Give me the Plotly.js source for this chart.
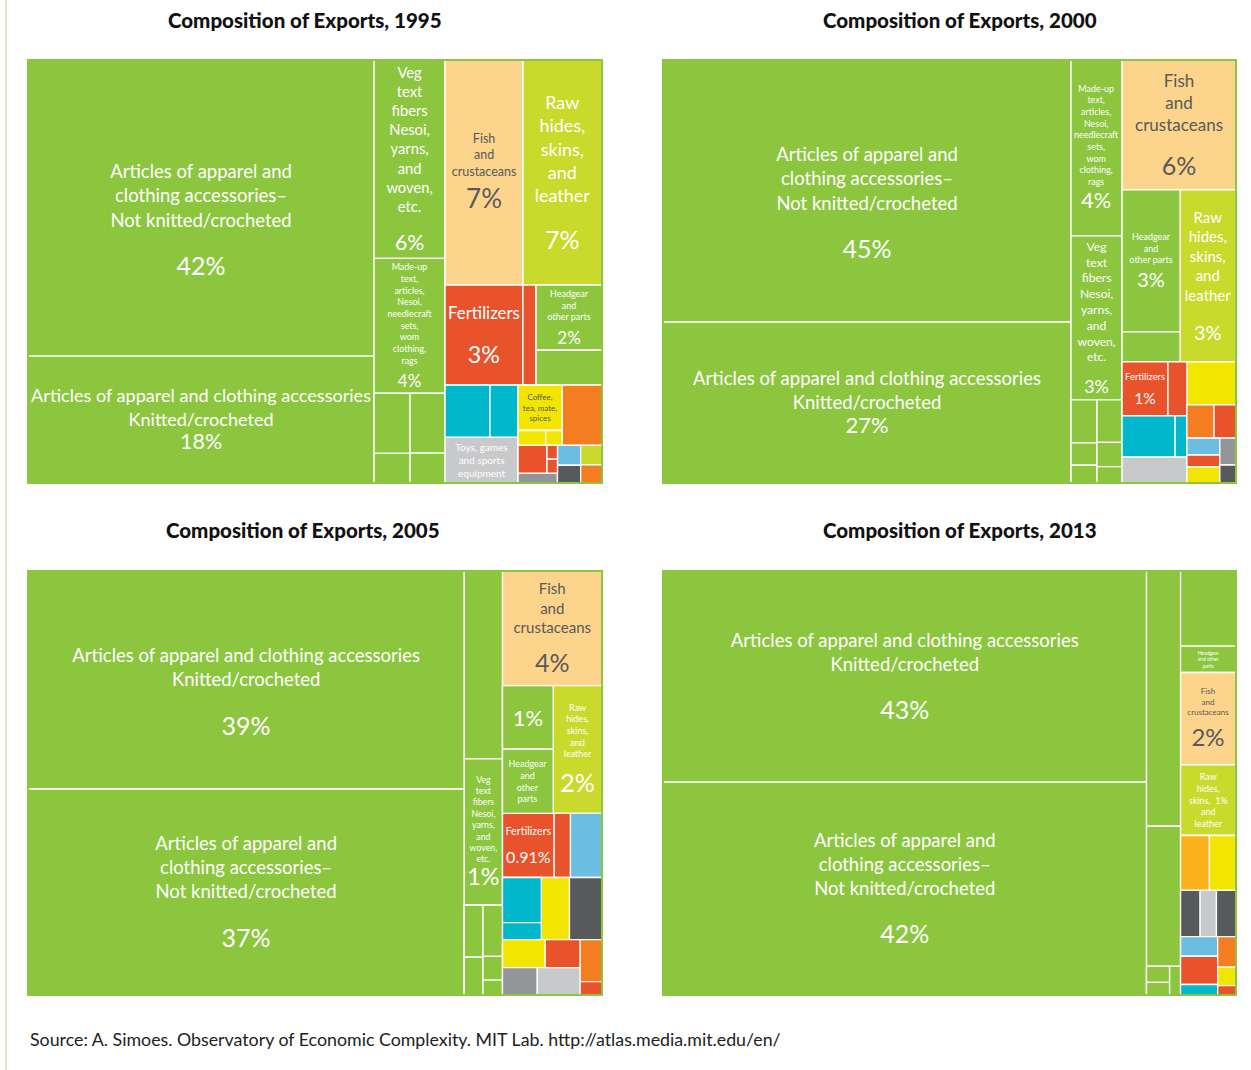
<!DOCTYPE html>
<html>
<head>
<meta charset="utf-8">
<script src="https://cdn.plot.ly/plotly-3.0.1.min.js"></script>
<style>html,body{margin:0;padding:0;background:#fff;}#chart{width:1251px;height:1070px;}</style>
</head>
<body>
<div id="chart"></div>
<script>
// ---------------- DATA ----------------
// 1995
const ids95 = ['r','A','notknit','knit','B','veg','madeup','Bx','b1','b11','b12','b2','b21','b22',
  'C','Ct','fish','raw','Cm','fert','fert2','hgc','head','head2',
  'Cb','cb1','cy','cy1','cy2','toys','cb2','cb2t','cof','coffee','ys','y1','y2','or1',
  'cb2b','rc','rg','r1','rs','r2','r3','gr1','bc','lb1','dg1','yc','yg1','or2'];
const parents95 = ['','r','A','A','r','B','B','B','Bx','b1','b1','Bx','b2','b2',
  'r','C','Ct','Ct','C','Cm','Cm','Cm','hgc','hgc',
  'C','Cb','cb1','cy','cy','cb1','Cb','cb2','cb2t','cof','cof','ys','ys','cb2t',
  'cb2','cb2b','rc','rg','rg','rs','rs','rc','cb2b','bc','bc','cb2b','yc','yc'];
const values95 = [0,0,42.2,18.1,0,5.8,3.95,0,0,0.89,0.44,0,0.86,0.43,
  0,0,7.23,7.32,0,3.21,0.54,0,1.77,0.95,
  0,0,0,0.96,0.6,1.38,0,0,0,0.82,0,0.17,0.1,0.99,
  0,0,0,0.33,0,0.06,0.06,0.16,0,0.19,0.17,0,0.17,0.16];
const named95 = ['notknit','knit','veg','madeup','fish','raw','fert','head','coffee','toys'];
const names95 = [
  'Articles of apparel and<br>clothing accessories–<br>Not knitted/crocheted',
  'Articles of apparel and clothing accessories<br>Knitted/crocheted',
  'Veg<br>text<br>fibers<br>Nesoi,<br>yarns,<br>and<br>woven,<br>etc.',
  'Made-up<br>text,<br>articles,<br>Nesoi,<br>needlecraft<br>sets,<br>wom<br>clothing,<br>rags',
  'Fish<br>and<br>crustaceans',
  'Raw<br>hides,<br>skins,<br>and<br>leather',
  'Fertilizers',
  'Headgear<br>and<br>other parts',
  'Coffee,<br>tea, mate,<br>spices',
  'Toys, games<br>and sports<br>equipment'];
const shares95 = ['42%','18%','6%','4%','7%','7%','3%','2%','',''];

// 2000
const ids00 = ['r','A','notknit','knit','B','madeup','veg','Bx','b1','b11','b12','b13','b2','b21','b22','b23',
  'C','fish','Cm','hgc','head','head2','raw',
  'Cb','cb1','fg','fert','fert2','cy','cy1','cy2','gr','cb2','ye','ro','or','rd','bb','bb1','lb','rd2','ye2','bb2','mg','dg'];
const parents00 = ['','r','A','A','r','B','B','B','Bx','b1','b1','b1','Bx','b2','b2','b2',
  'r','C','C','Cm','hgc','hgc','Cm',
  'C','Cb','cb1','fg','fg','cb1','cy','cy','cb1','Cb','cb2','cb2','ro','ro','cb2','bb','bb1','bb1','bb1','bb','bb2','bb2'];
const values00 = [0,0,44.1,27.1,0,3.7,3.45,0,0,0.46,0.24,0.19,0,0.44,0.25,0.17,
  0,6.1,0,0,3.4,0.72,3.97,
  0,0,0,1.02,0.42,0,0.9,0.2,0.7,0,0.87,0,0.37,0.3,0,0,0.23,0.16,0.22,0,0.18,0.12];
const named00 = ['notknit','knit','madeup','veg','fish','head','raw','fert'];
const names00 = [
  'Articles of apparel and<br>clothing accessories–<br>Not knitted/crocheted',
  'Articles of apparel and clothing accessories<br>Knitted/crocheted',
  'Made-up<br>text,<br>articles,<br>Nesoi,<br>needlecraft<br>sets,<br>wom<br>clothing,<br>rags',
  'Veg<br>text<br>fibers<br>Nesoi,<br>yarns,<br>and<br>woven,<br>etc.',
  'Fish<br>and<br>crustaceans',
  'Headgear<br>and<br>other parts',
  'Raw<br>hides,<br>skins,<br>and<br>leather',
  'Fertilizers'];
const shares00 = ['45%','27%','4%','3%','6%','3%','3%','1%'];

// 2005
const ids05 = ['r','A','knit','notknit','B','bt','veg','Bx','b1','b11','b12','b2','b21','b22','b23',
  'C','fish','Cm','c1','g1','head','raw',
  'row1','fert','fert2','lb','row2','cyc','cy','cy2','ye','dg',
  'row3','lg','lgt','ye2','rd','lgb','mg','lgr','rc','or','rd2'];
const parents05 = ['','r','A','A','r','B','B','B','Bx','b1','b1','Bx','b2','b2','b2',
  'r','C','C','Cm','c1','c1','Cm',
  'C','row1','row1','row1','C','row2','cyc','cyc','row2','row2',
  'C','row3','lg','lgt','lgt','lg','lgb','lgb','row3','rc','rc'];
const values05 = [0,0,39.05,36.9,0,2.95,2.3,0,0,0.4,0.29,0,0.41,0.19,0.12,
  0,4.68,0,0,1.32,1.34,2.56,
  0,1.36,0.43,0.83,0,0,0.72,0.27,0.72,0.83,
  0,0,0,0.49,0.4,0,0.39,0.48,0,0.38,0.12];
const named05 = ['knit','notknit','veg','fish','g1','head','raw','fert'];
const names05 = [
  'Articles of apparel and clothing accessories<br>Knitted/crocheted',
  'Articles of apparel and<br>clothing accessories–<br>Not knitted/crocheted',
  'Veg<br>text<br>fibers<br>Nesoi,<br>yarns,<br>and<br>woven,<br>etc.',
  'Fish<br>and<br>crustaceans',
  '',
  'Headgear<br>and<br>other<br>parts',
  'Raw<br>hides,<br>skins,<br>and<br>leather',
  'Fertilizers'];
const shares05 = ['39%','37%','1%','4%','1%','','2%','0.91%'];

// 2013
const ids13 = ['r','A','knit','notknit','B','bt','b2','Bx','bx1','bx11','bx12','bx2',
  'C','gt','head','fish','raw','r1','am','ye','r2','dg','lg','dg2','r3','c1','lb','rd','cy','c2','or','ye2','rd2'];
const parents13 = ['','r','A','A','r','B','B','B','Bx','bx1','bx1','Bx',
  'r','C','C','C','C','C','r1','r1','C','r2','r2','r2','C','r3','c1','c1','c1','r3','c2','c2','c2'];
const values13 = [0,0,41.9,42.3,0,3.57,1.96,0,0,0.15,0.12,0.13,
  0,1.71,0.6,2.1,1.61,0,0.65,0.6,0,0.37,0.31,0.37,0,0,0.3,0.43,0.16,0,0.23,0.14,0.07];
const named13 = ['knit','notknit','head','fish','raw'];
const names13 = [
  'Articles of apparel and clothing accessories<br>Knitted/crocheted',
  'Articles of apparel and<br>clothing accessories–<br>Not knitted/crocheted',
  'Headgear<br>and other<br>parts',
  'Fish<br>and<br>crustaceans',
  'Raw<br>hides,<br>skins,  1%<br>and<br>leather'];
const shares13 = ['43%','42%','','2%',''];

// ---------------- STYLE ----------------
const PAL = {G:'#8cc63f', YG:'#c9da2c', F:'#fdd48b', R:'#e9532b', C:'#00b7cb', Y:'#f2e600',
  O:'#f47d22', LB:'#6cbde2', LG:'#c8c9cb', DG:'#58595b', MG:'#939598', A:'#fbb21a'};
const col95 = {fish:'F', raw:'YG', fert:'R', fert2:'R', cy1:'C', cy2:'C', toys:'LG', coffee:'Y', y1:'Y', y2:'Y',
  or1:'O', r1:'R', r2:'R', r3:'R', gr1:'MG', lb1:'LB', dg1:'DG', yg1:'YG', or2:'O'};
const col00 = {fish:'F', raw:'YG', fert:'R', fert2:'R', cy1:'C', cy2:'C', gr:'LG', ye:'Y', or:'O', rd:'R',
  lb:'LB', rd2:'R', ye2:'Y', mg:'MG', dg:'DG'};
const col05 = {fish:'F', raw:'YG', fert:'R', fert2:'R', lb:'LB', cy:'C', cy2:'C', ye:'Y', dg:'DG',
  ye2:'Y', rd:'R', mg:'MG', lgr:'LG', or:'O', rd2:'R'};
const col13 = {fish:'F', raw:'YG', am:'A', ye:'Y', dg:'DG', lg:'LG', dg2:'DG', lb:'LB', rd:'R', cy:'C',
  or:'O', ye2:'Y', rd2:'R'};
// font size, percent size, blank lines before percent, leading blank lines
const fs95 = [18.5,18.5,18,10,12.5,18,18,10,8,10], ps95 = [25,22,26,19,26,25,25,19,0,0],
      gap95 = [1,0,1,1,1,1,1,1,0,0], lead95 = [1,0,0,0,0,0,0,0,0,0];
const fs00 = [18.5,18.5,9,15,17,9,15,12], ps00 = [25,22,22,22,25,20,20,20],
      gap00 = [1,0,1,1,1,1,1,1], lead00 = [1,0,0,0,0,0,0,0];
const fs05 = [18.5,18.5,9,15,10,9,9,12], ps05 = [25,25,24,25,22,0,25,18],
      gap05 = [1,1,1,1,0,0,2,1], lead05 = [1,0,0,0,0,0,0,0];
const fs13 = [18.5,18.5,5,8,9], ps13 = [25,25,0,24,0],
      gap13 = [1,1,0,2,0], lead13 = [0,0,0,0,0];
const darkText = ['fish','coffee'];
const FONT = 'Lato, "Open Sans", sans-serif';
const W = 1251, H = 1070;

function px(x){ return x / W; }
function py(y){ return 1 - y / H; }
function blank(n){ let s = ''; for(let i = 0; i < n; i++) s += '<br> '; return s; }

function makeTrace(ids, parents, values, named, names, shares, fs, ps, gap, lead, cmap, box){
  if(ids.length !== parents.length || ids.length !== values.length) throw new Error('length mismatch ' + ids[2]);
  const text = ids.map(() => '');
  const size = ids.map(() => 10);
  const tcol = ids.map(id => darkText.indexOf(id) >= 0 ? '#58595b' : '#ffffff');
  named.forEach((id, k) => {
    const i = ids.indexOf(id);
    let t = names[k];
    if(shares[k]){
      const sp = '<span style="font-size:' + ps[k] + 'px">' + shares[k] + '</span>';
      t = t ? t + blank(gap[k]) + '<br>' + sp : sp;
    }
    if(lead[k]) t = ' ' + blank(lead[k] - 1) + '<br>' + t;
    text[i] = t;
    size[i] = fs[k];
  });
  const colors = ids.map(id => PAL[cmap[id] || 'G']);
  return {
    type: 'treemap', ids: ids, labels: ids, parents: parents, values: values, text: text,
    textinfo: 'text', textposition: 'middle center', sort: false, branchvalues: 'remainder',
    tiling: {packing: 'slice-dice', pad: 0},
    marker: {colors: colors, pad: {t: 0, l: 0, r: 0, b: 0}, line: {color: '#ffffff', width: 1.3}},
    textfont: {family: FONT, size: size, color: tcol},
    pathbar: {visible: false}, hoverinfo: 'none',
    domain: {x: [px(box[0]), px(box[1])], y: [py(box[3]), py(box[2])]}
  };
}

const boxes = [[28,602,60,483],[663,1236,60,483],[28,602,571,995],[663,1236,571,995]];
const data = [
  makeTrace(ids95, parents95, values95, named95, names95, shares95, fs95, ps95, gap95, lead95, col95, boxes[0]),
  makeTrace(ids00, parents00, values00, named00, names00, shares00, fs00, ps00, gap00, lead00, col00, boxes[1]),
  makeTrace(ids05, parents05, values05, named05, names05, shares05, fs05, ps05, gap05, lead05, col05, boxes[2]),
  makeTrace(ids13, parents13, values13, named13, names13, shares13, fs13, ps13, gap13, lead13, col13, boxes[3])
];

const titles = ['Composition of Exports, 1995','Composition of Exports, 2000','Composition of Exports, 2005','Composition of Exports, 2013'];
const titlePos = [[305,20],[960,20],[303,530],[960,530]];
const annotations = titles.map((t, i) => ({
  text: t, x: px(titlePos[i][0]), y: py(titlePos[i][1]), xref: 'paper', yref: 'paper',
  xanchor: 'center', yanchor: 'middle', showarrow: false,
  font: {family: FONT, size: 20.5, weight: 900, color: '#111111'}
}));
annotations.push({
  text: 'Source: A. Simoes. Observatory of Economic Complexity. MIT Lab. http://atlas.media.mit.edu/en/',
  x: px(28), y: py(1039), xref: 'paper', yref: 'paper', xanchor: 'left', yanchor: 'middle', showarrow: false,
  font: {family: FONT, size: 17.8, color: '#222222'}
});
const shapes = boxes.map(b => ({type: 'rect', xref: 'paper', yref: 'paper', x0: px(b[0]), x1: px(b[1]), y0: py(b[3]), y1: py(b[2]),
  line: {color: '#8cc63f', width: 2}, layer: 'above'}));
shapes.push({type: 'line', xref: 'paper', yref: 'paper', x0: px(6), x1: px(6), y0: 0, y1: 1, line: {color: '#b5d98a', width: 1}});

Plotly.newPlot('chart', data, {
  width: W, height: H, margin: {l: 0, r: 0, t: 0, b: 0},
  paper_bgcolor: '#ffffff', showlegend: false, annotations: annotations, shapes: shapes,
  font: {family: FONT}
}, {displayModeBar: false, staticPlot: true});
</script>
</body>
</html>
